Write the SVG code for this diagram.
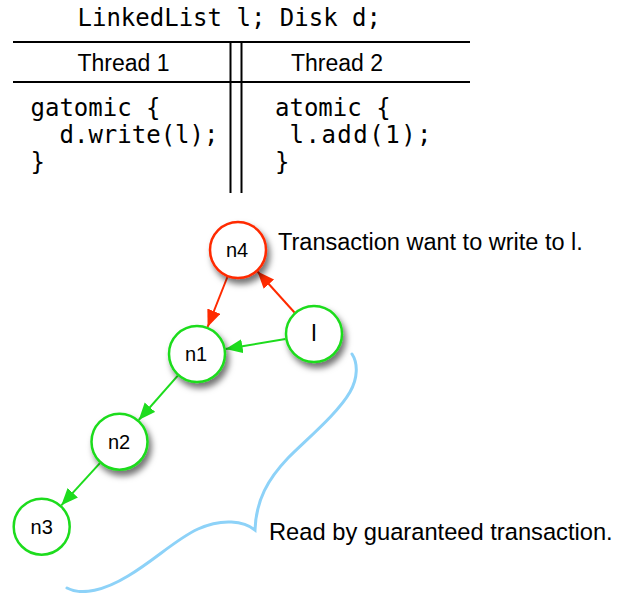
<svg xmlns="http://www.w3.org/2000/svg" width="619" height="593" viewBox="0 0 619 593">
<style>
.mono{font-family:"DejaVu Sans Mono","Liberation Mono",monospace;font-size:24px;fill:#000}
.sans{font-family:"Liberation Sans",Arial,sans-serif;fill:#000}
.rule{stroke:#000;stroke-width:2;fill:none}
.node{fill:#fff;stroke-width:2.5}
.red{stroke:#ff2a00}
.green{stroke:#1ddc1d}
.lbl{font-family:"Liberation Sans",Arial,sans-serif;text-anchor:middle;fill:#000}
.edge{stroke-width:2;fill:none}
</style>
<defs>
<filter id="sh" x="-40%" y="-40%" width="180%" height="180%">
<feDropShadow dx="3" dy="5" stdDeviation="3" flood-color="#000" flood-opacity="0.55"/>
</filter>
<marker id="ar" markerUnits="userSpaceOnUse" markerWidth="18" markerHeight="15" refX="17" refY="7" orient="auto">
<path d="M0,0 L17,7 L0,14 z" fill="#ff2a00"/>
</marker>
<marker id="ag" markerUnits="userSpaceOnUse" markerWidth="18" markerHeight="15" refX="17" refY="7" orient="auto">
<path d="M0,0 L17,7 L0,14 z" fill="#1ddc1d"/>
</marker>
</defs>
<g id="table">
<text class="mono" x="77.5" y="26">LinkedList l; Disk d;</text>
<line class="rule" x1="13" y1="42" x2="470" y2="42"/>
<line class="rule" x1="13" y1="82" x2="470" y2="82"/>
<line class="rule" x1="230.5" y1="42" x2="230.5" y2="193"/>
<line class="rule" x1="241.5" y1="42" x2="241.5" y2="193"/>
<text class="sans" x="77.5" y="71" font-size="23">Thread 1</text>
<text class="sans" x="291" y="71" font-size="23">Thread 2</text>
<text class="mono" x="30.5" y="116">gatomic {</text>
<text class="mono" x="59.5" y="142.7">d.write(l);</text>
<text class="mono" x="30.5" y="169.5">}</text>
<text class="mono" x="275" y="116">atomic {</text>
<text class="mono" x="289.5" y="142.7" letter-spacing="1.5">l.add(1);</text>
<text class="mono" x="275" y="169.5">}</text>
</g>
<g id="connectors">
<line class="edge red" x1="227.4" y1="277" x2="207.6" y2="327" marker-end="url(#ar)"/>
<line class="edge red" x1="294.5" y1="312.5" x2="257.5" y2="271.5" marker-end="url(#ar)"/>
<line class="edge green" x1="285.4" y1="338.9" x2="225.6" y2="349.1" marker-end="url(#ag)"/>
<line class="edge green" x1="177.8" y1="375.7" x2="138.7" y2="420" marker-end="url(#ag)"/>
<line class="edge green" x1="99.9" y1="463.1" x2="61.3" y2="505.3" marker-end="url(#ag)"/>
</g>
<g id="n4">
<circle class="node red" cx="238" cy="250" r="28" filter="url(#sh)"/>
<text class="lbl" x="237" y="257" font-size="20">n4</text>
</g>
<g id="l">
<circle class="node green" cx="314" cy="334" r="28" filter="url(#sh)"/>
<text class="lbl" x="314" y="341" font-size="24">l</text>
</g>
<g id="n1">
<circle class="node green" cx="197" cy="354" r="28" filter="url(#sh)"/>
<text class="lbl" x="196" y="361" font-size="20">n1</text>
</g>
<g id="n2">
<circle class="node green" cx="119.5" cy="441.7" r="28" filter="url(#sh)"/>
<text class="lbl" x="119" y="448.7" font-size="20">n2</text>
</g>
<g id="n3">
<circle class="node green" cx="41.7" cy="526.7" r="28"/>
<text class="lbl" x="41.7" y="533.7" font-size="20">n3</text>
</g>
<g id="brace">
<path d="M352,354 C358,363 358,378 350,392 C338,413 308,438 288,458 C268,479 256,500 255,530 C244,521 222,518 198,529 C176,539 155,560 128,576 C105,590 82,596 67,588" fill="none" stroke="#8dd2f8" stroke-width="3" stroke-linecap="round" stroke-linejoin="miter"/>
</g>
<g id="annotations">
<text class="sans" x="278" y="249.5" font-size="23.5">Transaction want to write to l.</text>
<text class="sans" x="269" y="540" font-size="23.7">Read by guaranteed transaction.</text>
</g>
</svg>
